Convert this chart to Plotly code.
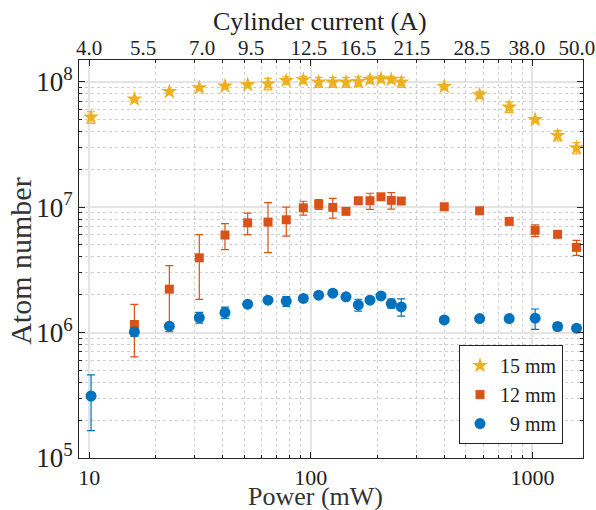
import math
import plotly.graph_objects as go

# ---------------- data ----------------
power_mw = [10.2, 16.0, 23.0, 31.4, 41.0, 51.9, 64.1, 77.5, 92.5, 108.5, 125.6, 144.1,
            163.8, 184.9, 207.3, 230.7, 255.9, 399.9, 577.4, 785, 1028, 1298, 1580]

atoms_15mm = [5.2e7, 7.24e7, 8.32e7, 8.91e7, 9.19e7, 9.41e7, 9.59e7, 1.019e8, 1.032e8, 9.89e7,
              9.89e7, 9.89e7, 1.0e8, 1.038e8, 1.05e8, 1.038e8, 9.89e7, 9.12e7, 7.83e7, 6.25e7,
              4.97e7, 3.71e7, 2.96e7]
err_15mm = [5.5e6, 2e6, 2.5e6, 2e6, 3e6, 4e6, 1e7, 7e6, 7e6, 9e6, 9e6, 9e6, 9e6, 7e6, 6e6,
            6e6, 9e6, 4e6, 5e6, 6e6, 2e6, 3.5e6, 3e6]

power_12mm = power_mw[1:]
atoms_12mm = [1.159e6, 2.216e6, 3.94e6, 5.98e6, 7.49e6, 7.59e6, 7.92e6, 9.87e6, 1.051e7, 9.94e6,
              9.24e6, 1.123e7, 1.123e7, 1.208e7, 1.131e7, 1.117e7, 1.006e7, 9.34e6, 7.69e6,
              6.52e6, 6.06e6, 4.77e6]
err_12mm = [5.2e5, 1.2e6, 2.1e6, 1.4e6, 1.47e6, 3.25e6, 2.05e6, 1.25e6, 9.5e5, 1.78e6, 3e5, 4e5,
            1.65e6, 4e5, 1.7e6, 6e5, 3e5, 3e5, 3e5, 7e5, 2e5, 6.5e5]

atoms_9mm = [3.12e5, 1.011e6, 1.123e6, 1.317e6, 1.444e6, 1.682e6, 1.81e6, 1.777e6, 1.868e6,
             1.985e6, 2.059e6, 1.924e6, 1.661e6, 1.81e6, 1.959e6, 1.703e6, 1.601e6, 1.261e6,
             1.293e6, 1.293e6, 1.30e6, 1.117e6, 1.082e6]
err_9mm = [1.47e5, 8e4, 6e4, 1.3e5, 1.5e5, 5e4, 6e4, 1.6e5, 8e4, 8e4, 5e4, 5e4, 1.8e5, 5e4, 5e4,
           1.4e5, 2.5e5, 5e4, 6e4, 5e4, 2.4e5, 8e4, 6e4]

# top axis (cylinder current) labels and where they sit on the power axis
current_labels = ["4.0", "5.5", "7.0", "9.5", "12.5", "16.5", "21.5", "28.5", "38.0", "50.0"]
current_pos_mw = [10.0, 17.5, 32.3, 53.8, 98.1, 163.3, 286, 533, 943, 1586]

x_ticks = [10, 100, 1000]
x_ticktext = ["10", "100", "1000"]
y_ticks = [1e5, 1e6, 1e7, 1e8]
y_ticktext = ["10<sup>5</sup>", "10<sup>6</sup>", "10<sup>7</sup>", "10<sup>8</sup>"]

# ---------------- style ----------------
YEL, ORA, BLU = "#EDB120", "#D95319", "#0072BD"
FONT = "Liberation Serif"
TXT = "#222222"
AX = "#262626"

x_minor = [m * 10 ** e for e in range(0, 4) for m in range(2, 10)]
y_minor = [m * 10 ** e for e in range(5, 9) for m in range(2, 10)]

fig = go.Figure()

def add_series(x, y, err, color, symbol, size, name):
    fig.add_trace(go.Scatter(
        x=x, y=y, mode="markers", name=name,
        marker=dict(color=color, symbol=symbol, size=size, line=dict(width=0)),
        error_y=dict(type="data", array=err, color=color, thickness=1.2, width=4),
    ))

add_series(power_mw, atoms_15mm, err_15mm, YEL, "star", 12, "15 mm")
add_series(power_12mm, atoms_12mm, err_12mm, ORA, "square", 9, "12 mm")
add_series(power_mw, atoms_9mm, err_9mm, BLU, "circle", 11, "\u20079 mm")

# invisible trace to carry the top axis
fig.add_trace(go.Scatter(x=current_pos_mw, y=[None] * len(current_pos_mw), xaxis="x2",
                         mode="markers", showlegend=False, hoverinfo="skip"))

xr = [math.log10(9.0), math.log10(1690)]
yr = [5.0, 8.172]

fig.update_layout(
    width=596, height=510,
    margin=dict(l=79, r=13, t=60, b=52, autoexpand=False),
    paper_bgcolor="white", plot_bgcolor="white",
    font=dict(family=FONT, color=TXT),
    showlegend=True,
    legend=dict(x=0.754, y=0.035, xanchor="left", yanchor="bottom",
                bgcolor="white", bordercolor="#262626", borderwidth=1,
                font=dict(size=20, family=FONT, color=TXT), itemwidth=30,
                tracegroupgap=0),
    xaxis=dict(type="log", range=xr, tickvals=x_ticks, ticktext=x_ticktext,
               ticks="inside", ticklen=6, tickwidth=1, tickcolor=AX,
               showline=True, linecolor=AX, linewidth=1, mirror="ticks",
               showgrid=True, gridcolor="#e4e4e4", gridwidth=1.5,
               tickfont=dict(size=22, family=FONT, color=TXT),
               minor=dict(tickvals=x_minor, ticks="inside", ticklen=3, tickcolor=AX,
                          showgrid=True, gridcolor="#cfcfcf", griddash="dot", gridwidth=1),
               automargin=False, zeroline=False),
    xaxis2=dict(type="log", range=xr, overlaying="x", side="top",
                tickvals=current_pos_mw, ticktext=current_labels,
                ticks="", showline=False, showgrid=False,
                tickfont=dict(size=21, family=FONT, color=TXT),
                automargin=False, zeroline=False),
    yaxis=dict(type="log", range=yr, tickvals=y_ticks, ticktext=y_ticktext,
               ticks="inside", ticklen=6, tickwidth=1, tickcolor=AX,
               showline=True, linecolor=AX, linewidth=1, mirror="ticks",
               showgrid=True, gridcolor="#e4e4e4", gridwidth=1.5,
               tickfont=dict(size=27, family=FONT, color=TXT),
               minor=dict(tickvals=y_minor, ticks="inside", ticklen=3, tickcolor=AX,
                          showgrid=True, gridcolor="#cfcfcf", griddash="dot", gridwidth=1),
               automargin=False, zeroline=False),
    annotations=[
        dict(text="Power (mW)", xref="paper", yref="paper", x=0.470, y=-0.096,
             xanchor="center", yanchor="middle", showarrow=False,
             font=dict(size=26, family=FONT, color="#333333")),
        dict(text="Atom number", xref="paper", yref="paper", x=-0.115, y=0.493,
             xanchor="center", yanchor="middle", showarrow=False, textangle=-90,
             font=dict(size=30, family=FONT, color="#333333")),
        dict(text="Cylinder current (A)", xref="paper", yref="paper", x=0.478, y=1.097,
             xanchor="center", yanchor="middle", showarrow=False,
             font=dict(size=26, family=FONT, color=TXT)),
    ],
)

fig.write_html("out.html", config={"displayModeBar": False},
               post_script="document.body.style.margin='0';document.body.style.overflow='hidden';")
